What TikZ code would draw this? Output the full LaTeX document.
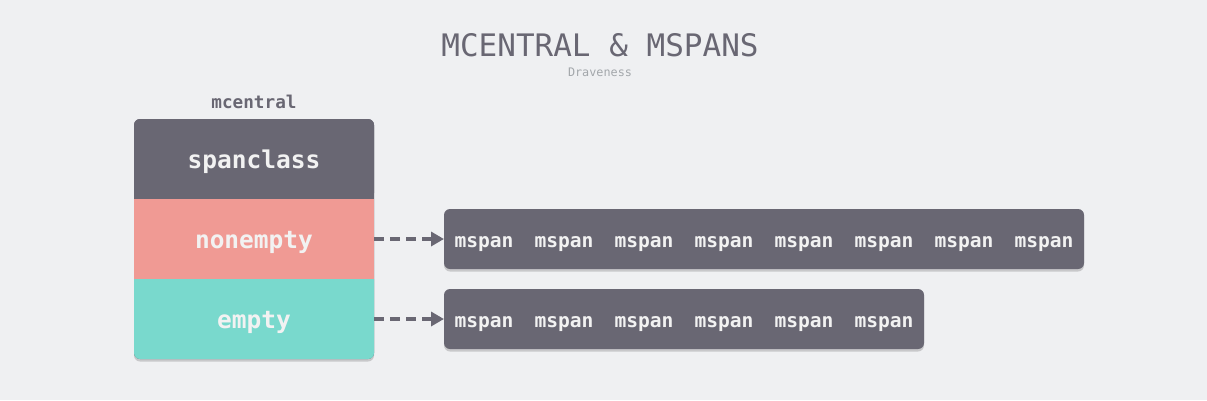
\documentclass[tikz,border=0pt]{standalone}
\usepackage{fontspec}
\setmonofont{DejaVu Sans Mono}
\usetikzlibrary{arrows.meta,shadows}
\definecolor{bg}{HTML}{EFF0F2}
\definecolor{dark}{HTML}{696773}
\definecolor{salmon}{HTML}{F09A94}
\definecolor{teal}{HTML}{79D9CD}
\definecolor{txt}{HTML}{F2F2F2}
\definecolor{sub}{HTML}{A3A7AB}
\tikzset{
  lbl/.style={text=txt,font=\ttfamily\bfseries\fontsize{24.5}{28}\selectfont,anchor=base},
  spantxt/.style={text=txt,font=\ttfamily\bfseries\fontsize{19.6}{22}\selectfont,anchor=base},
  shadowed/.style={drop shadow={shadow xshift=0pt,shadow yshift=-2.5pt,opacity=0.35}},
  spanbox/.style={fill=dark,rounded corners=6pt,shadowed},
  conn/.style={draw=dark,line width=4pt,dash pattern=on 10pt off 6pt,-{Triangle[length=13pt,width=14pt]}}
}
\begin{document}
\begin{tikzpicture}[x=1pt,y=-1pt]
\fill[bg] (0,0) rectangle (1207,400);
\useasboundingbox (0,0) rectangle (1207,400);
\node[text=dark,anchor=base,font=\ttfamily\fontsize{31}{34}\selectfont] (title) at (600,56) {MCENTRAL \& MSPANS};
\node[text=sub,anchor=base,font=\ttfamily\fontsize{11.8}{13}\selectfont] (author) at (600,76) {Draveness};
\node[text=dark,anchor=base,font=\ttfamily\bfseries\fontsize{17.7}{20}\selectfont] (mclabel) at (254,108) {mcentral};
% mcentral box
\fill[dark,rounded corners=6pt,shadowed] (134,119) rectangle (374,359);
\fill[dark,rounded corners=6pt] (134,119) rectangle (374,199);
\fill[salmon] (134,199) rectangle (374,279);
\fill[teal] (134,279) [rounded corners=6pt] -- (134,359) -- (374,359) [sharp corners] -- (374,279) -- cycle;
\node[lbl] (spanclass) at (254,168) {spanclass};
\node[lbl] (nonempty) at (254,248) {nonempty};
\node[lbl] (empty) at (254,328) {empty};
\coordinate (nout) at (374,239);
\coordinate (eout) at (374,319);
% mspan lists
\path[spanbox] (444,209) rectangle (1084,269);
\path[spanbox] (444,289) rectangle (924,349);
\coordinate (nin) at (444,239);
\coordinate (ein) at (444,319);
\foreach \i in {0,...,7} {
  \node[spantxt] (n\i) at ({484+80*\i},247) {mspan};
}
\foreach \i in {0,...,5} {
  \node[spantxt] (e\i) at ({484+80*\i},327) {mspan};
}
\draw[conn] (nout) -- (nin);
\draw[conn] (eout) -- (ein);
\end{tikzpicture}
\end{document}
